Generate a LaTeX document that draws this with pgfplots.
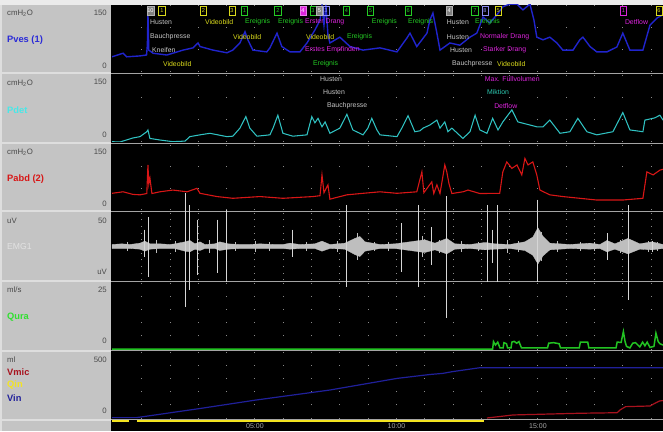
\documentclass[border=0pt]{standalone}
\usepackage{fontspec}
\setmainfont{Liberation Sans}
\usepackage{pgfplots}
\pgfplotsset{compat=1.18}
\definecolor{lgray}{HTML}{EBEBEB}
\definecolor{boxgray}{HTML}{C4C4C4}
\definecolor{boxline}{HTML}{DEDEDE}
\definecolor{sepgray}{HTML}{A4A4A4}
\definecolor{dotgray}{HTML}{8A8A8A}
\definecolor{pvesblue}{HTML}{2024CC}
\definecolor{pveslab}{HTML}{2A2AD8}
\definecolor{pdetcyan}{HTML}{30C2C2}
\definecolor{pdetlab}{HTML}{48E8E8}
\definecolor{pabdred}{HTML}{D81616}
\definecolor{emggray}{HTML}{BEBEBE}
\definecolor{emgspike}{HTML}{D6D6D6}
\definecolor{emglab}{HTML}{E2E2E2}
\definecolor{quragreen}{HTML}{22C222}
\definecolor{quralab}{HTML}{30E030}
\definecolor{vmicred}{HTML}{A8121E}
\definecolor{vinblue}{HTML}{20209A}
\definecolor{qinyellow}{HTML}{F4E420}
\definecolor{evyellow}{HTML}{DADA1C}
\definecolor{evgreen}{HTML}{24CC24}
\definecolor{evmag}{HTML}{DC24DC}
\definecolor{evgray}{HTML}{C4C4C4}
\definecolor{evteal}{HTML}{2CC8B0}
\definecolor{evblue}{HTML}{8C8CF0}
\definecolor{numgray}{HTML}{4A4A4A}
\definecolor{timegray}{HTML}{A8A8A8}
\newcommand\lf{\fontsize{7.8}{9}\selectfont}
\newcommand\nf{\fontsize{9.3}{10}\selectfont\bfseries}
\newcommand\ef{\fontsize{6.9}{8}\selectfont}
\newcommand\mf{\fontsize{5.6}{6}\selectfont}
\tikzset{
 mk/.style={draw=#1, text=#1, line width=0.6pt, inner sep=0.5pt, minimum width=6.2pt, minimum height=8.6pt, font=\mf},
 mkf/.style={fill=#1, draw=#1!60!white, text=white, line width=0.6pt, inner sep=0.5pt, minimum width=6.2pt, minimum height=8.6pt, font=\mf},
 ev/.style={anchor=west, inner sep=0pt, text=#1, font=\ef},
 ll/.style={anchor=west, inner sep=0pt, font=\lf, text=numgray},
 lr/.style={anchor=east, inner sep=0pt, font=\lf, text=numgray},
 ln/.style={anchor=west, inner sep=0pt, font=\nf, text=#1},
}
\pgfplotsset{
  panel/.style={
    scale only axis, width=551pt,
    xmin=-0.05, xmax=19.42,
    axis background/.style={fill=black},
    axis line style={draw=none},
    xtick={1,2,...,19}, xticklabels={}, ytick=\empty,
    major tick length=0pt,
    xmajorgrids,
    anchor=south west,
  },
  dots/.style={major x grid style={draw=dotgray, line width=1pt, dash pattern=on 1pt off #1pt, dash phase=0.5pt}},
}
\begin{document}
\begin{tikzpicture}[x=1pt,y=1pt]
\fill[lgray] (0,0) rectangle (663,431);
\fill[boxline] (0,0) rectangle (111,426);
\foreach \a/\b in {358.5/426, 288.5/356.5, 220.5/286.5, 150.5/218.5, 81.5/148.5, 12.5/79.5, 0/10.5}
  \fill[boxgray] (2,\a) rectangle (110.5,\b);
\fill[black] (111,0) rectangle (663,426);
\foreach \y in {357.5,287.5,219.5,149.5,80.5,12}
  \draw[sepgray, line width=0.9pt] (111,\y) -- (663,\y);

% ---- left labels
\node[ll] at (7,418) {cmH\textsubscript{2}O}; \node[lr] at (107,418) {150};
\node[ln=pveslab] at (7,391) {Pves (1)}; \node[lr] at (107,365) {0};
\node[ll] at (7,348) {cmH\textsubscript{2}O}; \node[lr] at (107,349) {150};
\node[ln=pdetlab] at (7,321) {Pdet}; \node[lr] at (107,296) {0};
\node[ll] at (7,279) {cmH\textsubscript{2}O}; \node[lr] at (107,279) {150};
\node[ln=pabdred] at (7,252) {Pabd (2)}; \node[lr] at (107,227) {0};
\node[ll] at (7,210) {uV}; \node[lr] at (107,210) {50};
\node[ll, text=emglab, font=\fontsize{8.6}{10}\selectfont] at (7,184) {EMG1}; \node[lr] at (107,159) {uV};
\node[ll] at (7,141) {ml/s}; \node[lr] at (107,141) {25};
\node[ln=quralab] at (7,114) {Qura}; \node[lr] at (107,90) {0};
\node[ll] at (7,71) {ml}; \node[lr] at (107,71) {500};
\node[ln=vmicred] at (7,59) {Vmic};
\node[ln=qinyellow] at (7,46) {Qin};
\node[ln=vinblue] at (7,33) {Vin};
\node[lr] at (107,20) {0};

% ---- Pves
\begin{axis}[panel, dots=21.333, at={(112pt,359pt)}, height=67pt, ymin=0, ymax=150]
\addplot[pvesblue, line width=1.4pt] coordinates {
(-0.05,34) (0.34,42) (0.47,34) (0.94,36) (1.17,38) (1.20,60) (1.22,132) (1.25,49) (1.40,42) (1.89,38) (2.46,49) (2.81,54) (2.99,65) (3.06,57) (3.52,49) (4.01,43) (4.22,49) (4.47,65) (4.65,90) (4.75,72) (4.93,49) (5.42,45) (5.53,54) (5.78,87) (5.95,57) (6.24,45) (6.59,45) (6.84,65) (7.12,94) (7.30,116) (7.37,148) (7.44,105) (7.51,150) (7.58,83) (7.65,65) (8.00,78) (8.36,57) (8.82,49) (9.42,54) (10.02,45) (10.37,76) (10.48,87) (10.72,57) (11.08,87) (11.18,116) (11.29,132) (11.43,87) (11.54,49) (11.89,65) (12.24,60) (12.60,78) (12.84,87) (13.06,123) (13.30,110) (13.55,128) (13.76,146) (14.01,152) (14.26,152) (14.47,139) (14.72,152) (14.86,116) (14.96,78) (15.18,72) (15.42,78) (15.67,65) (15.88,49) (16.24,49) (16.48,72) (16.59,78) (16.84,57) (17.08,45) (17.44,45) (17.79,56) (18.00,87) (18.25,49) (18.71,49) (18.96,105) (19.21,121) (19.42,128)};
% event markers
\node[mkf=gray] at (axis cs:1.31,137) {10};
\node[mk=evyellow] at (axis cs:1.71,137) {1};
\node[mk=evyellow] at (axis cs:3.18,137) {2};
\node[mk=evyellow] at (axis cs:4.19,137) {3};
\node[mk=evgreen] at (axis cs:4.63,137) {1};
\node[mk=evgreen] at (axis cs:5.81,137) {2};
\node[mkf=evmag] at (axis cs:6.70,137) {4};
\node[mk=evgreen] at (axis cs:7.05,137) {3};
\node[mkf=gray] at (axis cs:7.28,137) {5};
\node[mk=evblue] at (axis cs:7.51,137) {3};
\node[mk=evgreen] at (axis cs:8.23,137) {4};
\node[mk=evgreen] at (axis cs:9.08,137) {5};
\node[mk=evgreen] at (axis cs:10.42,137) {6};
\node[mkf=gray] at (axis cs:11.86,137) {4};
\node[mk=evgreen] at (axis cs:12.77,137) {7};
\node[mk=evblue] at (axis cs:13.13,137) {8};
\node[mk=evyellow] at (axis cs:13.60,137) {5};
\node[mk=evmag] at (axis cs:18.02,137) {1};
\node[mk=evyellow] at (axis cs:19.28,137) {6};
% event texts
\node[ev=evgray] at (axis cs:1.29,112) {Husten};
\node[ev=evyellow] at (axis cs:3.23,112) {Videobild};
\node[ev=evgreen] at (axis cs:4.65,112) {Ereignis};
\node[ev=evgreen] at (axis cs:5.81,112) {Ereignis};
\node[ev=evmag] at (axis cs:6.77,112) {Erster Drang};
\node[ev=evgreen] at (axis cs:9.13,112) {Ereignis};
\node[ev=evgreen] at (axis cs:10.41,112) {Ereignis};
\node[ev=evgray] at (axis cs:11.78,112) {Husten};
\node[ev=evgreen] at (axis cs:12.77,112) {Ereignis};
\node[ev=evmag] at (axis cs:18.07,112) {Detflow};
\node[ev=evgray] at (axis cs:1.29,78) {Bauchpresse};
\node[ev=evyellow] at (axis cs:4.22,78) {Videobild};
\node[ev=evyellow] at (axis cs:6.80,78) {Videobild};
\node[ev=evgreen] at (axis cs:8.25,78) {Ereignis};
\node[ev=evgray] at (axis cs:11.78,78) {Husten};
\node[ev=evmag] at (axis cs:12.95,78) {Normaler Drang};
\node[ev=evgray] at (axis cs:1.36,49) {Kneifen};
\node[ev=evmag] at (axis cs:6.77,49) {Erstes Empfinden};
\node[ev=evgray] at (axis cs:11.89,49) {Husten};
\node[ev=evmag] at (axis cs:13.06,49) {Starker Drang};
\node[ev=evyellow] at (axis cs:1.75,18) {Videobild};
\node[ev=evgreen] at (axis cs:7.05,18) {Ereignis};
\node[ev=evgray] at (axis cs:11.96,18) {Bauchpresse};
\node[ev=evyellow] at (axis cs:13.55,18) {Videobild};
\end{axis}

% ---- Pdet
\begin{axis}[panel, dots=21.333, at={(112pt,289pt)}, height=67pt, ymin=0, ymax=150]
\addplot[pdetcyan, line width=1.05pt] coordinates {
(-0.05,0.7) (0.23,0) (0.69,9) (0.94,12) (1.18,23) (1.22,27) (1.29,8) (1.64,4.5) (2.10,0.7) (2.53,2) (2.70,12) (3.06,16) (3.41,19.5) (4.01,12) (4.22,13) (4.47,31) (4.68,57) (4.82,31) (5.07,13) (5.53,16) (5.64,31) (5.81,60) (5.99,19.5) (6.34,13) (6.84,16) (7.01,57) (7.12,43) (7.23,53) (7.37,34) (7.48,45) (7.65,19.5) (8.00,31) (8.25,62) (8.46,27) (8.82,16) (8.99,31) (9.13,53) (9.31,27) (9.42,16) (10.02,12) (10.19,31) (10.41,59) (10.65,23) (10.83,25) (10.94,31) (11.18,38) (11.43,49) (11.54,31) (11.71,45) (11.82,23) (11.96,31) (12.35,8) (12.60,23) (12.78,60) (12.95,27) (13.20,19.5) (13.40,53) (13.59,27) (13.76,45) (14.08,72) (14.29,45) (14.72,38) (14.96,34) (15.18,34) (15.42,49) (15.78,19.5) (16.13,23) (16.41,53) (16.73,23) (17.08,16) (17.65,23) (18.00,66) (18.25,27) (18.71,23) (18.78,49) (19.13,54) (19.31,60) (19.42,49)};
\node[ev=evgray] at (axis cs:7.30,141) {Husten};
\node[ev=evgray] at (axis cs:7.40,112) {Husten};
\node[ev=evgray] at (axis cs:7.54,81) {Bauchpresse};
\node[ev=evmag] at (axis cs:13.12,141) {Max. F\"ullvolumen};
\node[ev=evteal] at (axis cs:13.20,112) {Miktion};
\node[ev=evmag] at (axis cs:13.45,81) {Detflow};
\end{axis}

% ---- Pabd
\begin{axis}[panel, dots=20.667, at={(112pt,221pt)}, height=65pt, ymin=0, ymax=150]
\addplot[pabdred, line width=1.1pt] coordinates {
(-0.05,38.5) (0.34,42) (0.69,36) (0.94,35) (1.18,38) (1.22,104) (1.25,60) (1.29,74) (1.36,38) (1.64,42) (2.10,46) (2.60,42) (2.95,50) (3.06,38.5) (3.66,31) (4.22,27) (5.18,31) (5.99,27) (7.05,31) (7.30,33) (7.37,81) (7.44,40) (7.58,58) (7.65,25) (8.25,35) (8.82,38.5) (9.42,42) (10.02,38.5) (10.72,42) (10.90,88) (10.97,40) (11.25,65) (11.32,38) (11.43,58) (11.54,38) (11.71,104) (11.78,88) (11.86,60) (11.96,38) (12.35,42) (12.53,46) (12.95,38) (13.65,38.5) (13.76,88) (13.90,111) (14.08,96) (14.26,104) (14.43,81) (14.54,119) (14.65,104) (14.82,111) (14.96,81) (15.07,46) (15.42,35) (15.88,31) (17.08,23) (18.00,23) (18.71,27) (18.85,88) (19.07,81) (19.31,92) (19.42,94)};
\end{axis}

% ---- Qura
\begin{axis}[panel, dots=12.2, at={(112pt,82pt)}, height=66pt, ymin=0, ymax=25, clip=false]
\addplot[quragreen, line width=1.5pt] coordinates {
(-0.05,0) (13.40,0) (13.43,2.8) (13.50,1.5) (13.58,2.6) (13.66,0.4) (13.77,0.4) (13.80,2.4) (13.89,2.0) (13.93,0.4) (14.05,0.4) (14.08,2.6) (14.16,2.9) (14.25,2.2) (14.33,2.8) (14.42,0.4) (15.34,0.4) (15.38,2.2) (15.55,2.4) (15.75,2.0) (15.80,0.4) (16.46,0.4) (16.50,2.6) (16.76,2.6) (16.80,0.4) (17.76,0.4) (17.80,2.6) (17.94,2.5) (18.02,6.6) (18.08,2.8) (18.13,1.0) (18.25,0.4) (18.35,2.2) (18.45,2.4) (18.60,0.8) (18.70,2.6) (18.78,1.2) (18.86,2.6) (18.96,0.6) (19.10,1.0) (19.17,6.0) (19.25,2.8) (19.31,2.0) (19.42,1.5)};
\end{axis}

% ---- Volumes
\begin{axis}[panel, dots=12.2, at={(112pt,13pt)}, height=66pt, ymin=0, ymax=500]
\addplot[vinblue, line width=1.2pt] coordinates {
(-0.05,3) (0.82,3) (3,70) (5,135) (7.65,212) (10.02,300) (11.2,330) (11.64,338) (12.0,352) (12.95,381) (19.42,381)};
\addplot[vmicred, line width=1.2pt] coordinates {
(13.2,0) (14.12,23) (16.48,36) (17.8,40) (17.9,61) (18.1,86) (18.96,91) (19.13,111) (19.3,129) (19.42,132)};
\end{axis}

% ---- time strip
\begin{axis}[panel, xmajorgrids=false, at={(112pt,0pt)}, height=11.5pt, ymin=0, ymax=1]
\addplot[qinyellow, line width=2pt, unbounded coords=jump] coordinates {
(-0.05,0.9) (0.55,0.9) (0.55,nan) (0.82,0.9) (13.1,0.9)};
\node[text=timegray, font=\fontsize{7}{8}\selectfont, inner sep=0pt] at (axis cs:5,0.42) {05:00};
\node[text=timegray, font=\fontsize{7}{8}\selectfont, inner sep=0pt] at (axis cs:10,0.42) {10:00};
\node[text=timegray, font=\fontsize{7}{8}\selectfont, inner sep=0pt] at (axis cs:15,0.42) {15:00};
\end{axis}

% ---- EMG (drawn last, its spikes run over neighbouring panels)
\begin{axis}[panel, dots=5.7, at={(112pt,151pt)}, height=67pt, ymin=-50, ymax=50, clip=false]
\addplot[fill=emggray, draw=emggray, line width=0.3pt] coordinates {
(-0.05,3) (0.3,4) (0.58,3) (0.94,5) (1.11,8) (1.29,4) (1.64,4) (2.0,3) (2.17,4) (2.53,7) (2.70,9) (2.88,4) (3.06,7) (3.23,3) (3.59,4) (3.76,7) (4.05,4) (4.47,3) (4.8,3) (5.18,4) (5.71,3) (6.0,3) (6.24,5) (6.59,3) (7.12,4) (7.37,8) (7.65,3) (8.18,5) (8.53,12) (8.71,15) (8.89,7) (9.42,3) (9.95,4) (10.30,6) (10.65,8) (11.0,10) (11.36,5) (11.78,12) (12.06,4) (12.60,3) (13.13,6) (13.48,4) (14.01,3) (14.54,7) (14.82,14) (15.0,28) (15.18,15) (15.42,5) (16.13,3) (16.84,5) (17.19,3) (17.44,9) (17.72,4) (18.18,12) (18.60,4) (19.03,7) (19.42,3)
(19.42,-3) (19.03,-5) (18.60,-4) (18.18,-11) (17.72,-4) (17.44,-8) (17.19,-3) (16.84,-4) (16.13,-3) (15.42,-5) (15.18,-14) (15.0,-26) (14.82,-13) (14.54,-6) (14.01,-3) (13.48,-4) (13.13,-5) (12.60,-3) (12.06,-4) (11.78,-11) (11.36,-5) (11.0,-9) (10.65,-7) (10.30,-5) (9.95,-3) (9.42,-3) (8.89,-7) (8.71,-15) (8.53,-12) (8.18,-4) (7.65,-3) (7.37,-7) (7.12,-3) (6.59,-3) (6.24,-4) (6.0,-3) (5.71,-3) (5.18,-3) (4.8,-3) (4.47,-3) (4.05,-4) (3.76,-6) (3.59,-3) (3.23,-3) (3.06,-6) (2.88,-4) (2.70,-8) (2.53,-7) (2.17,-3) (2.0,-3) (1.64,-3) (1.29,-4) (1.11,-7) (0.94,-4) (0.58,-3) (0.3,-3) (-0.05,-3)} -- cycle;
\addplot[emggray, line width=0.5pt, unbounded coords=jump] coordinates {
(0.5,7) (0.5,-7) (0.5,nan) (1.5,10) (1.5,-10) (1.5,nan) (2.2,8) (2.2,-8) (2.2,nan) (3.4,9) (3.4,-9) (3.4,nan) (4.3,6) (4.3,-6) (4.3,nan) (5.0,8) (5.0,-8) (5.0,nan) (5.5,6) (5.5,-6) (5.5,nan) (6.8,7) (6.8,-7) (6.8,nan) (7.9,8) (7.9,-8) (7.9,nan) (8.6,20) (8.6,-20) (8.6,nan) (9.2,7) (9.2,-7) (9.2,nan) (9.7,6) (9.7,-6) (9.7,nan) (10.9,15) (10.9,-15) (10.9,nan) (11.5,10) (11.5,-10) (11.5,nan) (12.3,8) (12.3,-8) (12.3,nan) (12.9,7) (12.9,-7) (12.9,nan) (13.9,9) (13.9,-9) (13.9,nan) (14.3,8) (14.3,-8) (14.3,nan) (15.1,22) (15.1,-22) (15.1,nan) (15.7,8) (15.7,-8) (15.7,nan) (16.5,7) (16.5,-7) (16.5,nan) (17.0,6) (17.0,-6) (17.0,nan) (17.9,9) (17.9,-9) (17.9,nan) (18.9,8) (18.9,-8) (18.9,nan) (19.2,6) (19.2,-6)};
\addplot[emgspike, line width=0.8pt, unbounded coords=jump] coordinates {
(1.11,25) (1.11,-16) (1.11,nan) (1.22,44) (1.22,-46) (1.22,nan) (2.56,80) (2.56,-90) (2.56,nan) (2.67,62) (2.67,-65) (2.67,nan) (2.95,40) (2.95,-43) (2.95,nan) (3.66,40) (3.66,-40) (3.66,nan) (3.98,55) (3.98,-53) (3.98,nan) (6.31,25) (6.31,-16) (6.31,nan) (8.25,62) (8.25,-60) (8.25,nan) (10.19,35) (10.19,-38) (10.19,nan) (10.76,62) (10.76,-60) (10.76,nan) (11.25,29) (11.25,-28) (11.25,nan) (11.78,75) (11.78,-107) (11.78,nan) (13.2,62) (13.2,-53) (13.2,nan) (13.4,25) (13.4,-25) (13.4,nan) (13.57,62) (13.57,-53) (13.57,nan) (14.98,70) (14.98,-53) (14.98,nan) (17.44,20) (17.44,-20) (17.44,nan) (18.18,62) (18.18,-80) (18.18,nan) (19.03,8) (19.03,-8)};
\end{axis}
\pgfresetboundingbox
\path[use as bounding box] (0,0) rectangle (663,431);
\end{tikzpicture}
\end{document}
